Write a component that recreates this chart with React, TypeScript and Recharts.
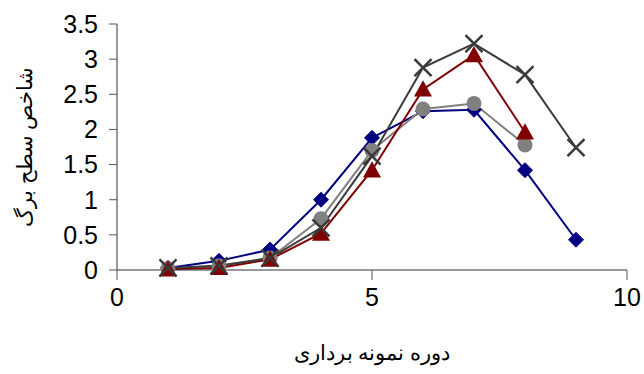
import React from "react";
import { LineChart, Line, XAxis, YAxis } from "recharts";

const periods = [1, 2, 3, 4, 5, 6, 7, 8, 9];
const seriesDiamond = [0.03, 0.13, 0.29, 1.0, 1.88, 2.26, 2.28, 1.42, 0.43];
const seriesCircle = [0.02, 0.06, 0.17, 0.73, 1.7, 2.29, 2.37, 1.78, null];
const seriesTriangle = [0.01, 0.03, 0.15, 0.52, 1.42, 2.57, 3.06, 1.96, null];
const seriesCross = [0.03, 0.06, 0.17, 0.6, 1.62, 2.88, 3.22, 2.78, 1.74];
const xTicks = [0, 5, 10];
const yTicks = [0, 0.5, 1, 1.5, 2, 2.5, 3, 3.5];

const data = periods.map((p, i) => ({
  x: p,
  a: seriesDiamond[i],
  b: seriesCircle[i],
  c: seriesTriangle[i],
  d: seriesCross[i],
}));

const FONT = "'Liberation Sans', Arial, sans-serif";

const Diamond = (props: any) => {
  const { cx, cy, value } = props;
  if (value == null || cx == null || cy == null) return null;
  const s = 7.5;
  return (
    <path
      key={props.key}
      d={`M${cx},${cy - s}L${cx + s},${cy}L${cx},${cy + s}L${cx - s},${cy}Z`}
      fill="#000080"
      stroke="#000080"
      strokeWidth={1}
    />
  );
};

const Circle = (props: any) => {
  const { cx, cy, value } = props;
  if (value == null || cx == null || cy == null) return null;
  return <circle key={props.key} cx={cx} cy={cy} r={7.5} fill="#808080" />;
};

const Triangle = (props: any) => {
  const { cx, cy, value } = props;
  if (value == null || cx == null || cy == null) return null;
  const s = 9;
  return (
    <path
      key={props.key}
      d={`M${cx},${cy - s}L${cx + s},${cy + s * 0.8}L${cx - s},${cy + s * 0.8}Z`}
      fill="#800000"
    />
  );
};

const Cross = (props: any) => {
  const { cx, cy, value } = props;
  if (value == null || cx == null || cy == null) return null;
  const s = 8.5;
  return (
    <path
      key={props.key}
      d={`M${cx - s},${cy - s}L${cx + s},${cy + s}M${cx + s},${cy - s}L${cx - s},${cy + s}`}
      stroke="#3a3a3a"
      strokeWidth={2.5}
      fill="none"
    />
  );
};

export default function App() {
  return (
    <div style={{ position: "absolute", left: 0, top: 0, background: "#fff" }}>
      <LineChart
        width={644}
        height={374}
        data={data}
        margin={{ top: 24, right: 17, bottom: 0, left: 45 }}
      >
        <XAxis
          dataKey="x"
          type="number"
          domain={[0, 10]}
          ticks={xTicks}
          interval={0}
          height={104}
          tickSize={10}
          tickMargin={8}
          stroke="#333"
          tick={{ fill: "#000", fontSize: 25, fontFamily: FONT }}
          tickLine={{ stroke: "#555" }}
          label={{
            value: "دوره نمونه برداری",
            position: "insideBottom",
            offset: 14,
            fill: "#000",
            fontSize: 21,
            fontFamily: FONT,
          }}
        />
        <YAxis
          type="number"
          domain={[0, 3.5]}
          ticks={yTicks}
          interval={0}
          width={72}
          tickSize={8}
          tickMargin={11}
          stroke="#333"
          tick={{ fill: "#000", fontSize: 25, fontFamily: FONT }}
          tickLine={{ stroke: "#555" }}
          label={{
            value: "شاخص سطح برگ",
            angle: -90,
            position: "insideLeft",
            offset: -20,
            fill: "#000",
            fontSize: 21,
            fontFamily: FONT,
            style: { textAnchor: "middle" },
          }}
        />
        <Line
          dataKey="a"
          stroke="#000080"
          strokeWidth={2}
          dot={Diamond}
          isAnimationActive={false}
          connectNulls={false}
        />
        <Line
          dataKey="b"
          stroke="#808080"
          strokeWidth={2}
          dot={Circle}
          isAnimationActive={false}
        />
        <Line
          dataKey="c"
          stroke="#800000"
          strokeWidth={2}
          dot={Triangle}
          isAnimationActive={false}
        />
        <Line
          dataKey="d"
          stroke="#3a3a3a"
          strokeWidth={2}
          dot={Cross}
          isAnimationActive={false}
        />
      </LineChart>
    </div>
  );
}
